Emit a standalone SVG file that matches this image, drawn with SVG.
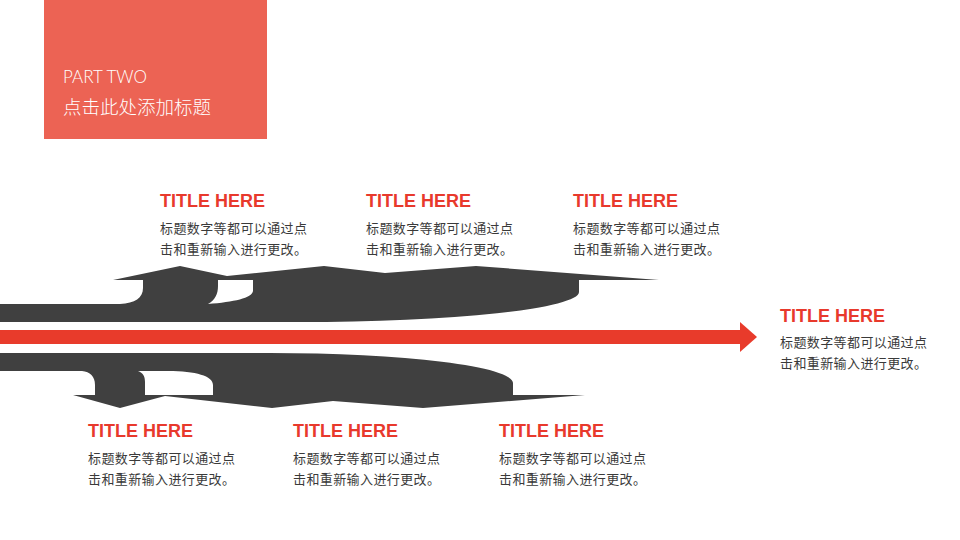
<svg xmlns="http://www.w3.org/2000/svg" width="960" height="540" viewBox="0 0 960 540">
<style>
.t{font-family:"Liberation Sans",Arial,sans-serif;font-weight:bold;font-size:18px;fill:#E8392C}
.b{font-family:"Noto Sans CJK SC","Liberation Sans",sans-serif;font-size:13px;fill:#3a3a3a;letter-spacing:0.4px}
.dark{fill:#404040}
.hole{fill:#ffffff}
</style>
<rect width="960" height="540" fill="#ffffff"/>
<g id="header">
<rect x="44" y="0" width="223" height="139" fill="#EC6354"/>
<text x="63" y="83" font-family="Lato,'Liberation Sans',sans-serif" font-weight="300" font-size="17" fill="#ffffff">PART TWO</text>
<text x="63" y="114" font-family="'Noto Sans CJK SC',sans-serif" font-weight="300" font-size="18.5" fill="#ffffff">点击此处添加标题</text>
</g>
<g id="connectors">
<path class="dark" d="M0,304 L120,304 C135,303 143,298 143,288 L143,280 L113,280 L180,266 L227,276 L324,266 L385,273 L476,266 L659,280 L579,280 L579,292 A280 30 0 0 1 299,322 L0,322 Z"/>
<path class="hole" d="M218,280 L253,280 L253,291 C252,298 234,302 208,304 C215,300 218,294 218,286 Z"/>
<path class="dark" d="M0,353 L270,353 A243 30 0 0 1 513,383 L513,395 L585,395 L423,408 L333,401 L272,408 L165,396 L120,408 L73,395 L95,395 L95,385 C95,376 90,372 82,371 L0,371 Z"/>
<path class="hole" d="M138,371 L168,371 C196,371 213,376 213,385 L213,395 L145,395 L145,382 C145,376 143,373 138,371 Z"/>
<rect x="0" y="330" width="741" height="14" fill="#E83B2B"/>
<polygon points="740,322 757,337 740,352" fill="#E83B2B"/>
</g>
<g id="node-top-1">
<text class="t" x="160" y="207">TITLE HERE</text>
<text class="b" x="160" y="233">标题数字等都可以通过点</text>
<text class="b" x="160" y="254">击和重新输入进行更改。</text>
</g>
<g id="node-top-2">
<text class="t" x="366" y="207">TITLE HERE</text>
<text class="b" x="366" y="233">标题数字等都可以通过点</text>
<text class="b" x="366" y="254">击和重新输入进行更改。</text>
</g>
<g id="node-top-3">
<text class="t" x="573" y="207">TITLE HERE</text>
<text class="b" x="573" y="233">标题数字等都可以通过点</text>
<text class="b" x="573" y="254">击和重新输入进行更改。</text>
</g>
<g id="node-right">
<text class="t" x="780" y="322">TITLE HERE</text>
<text class="b" x="780" y="347">标题数字等都可以通过点</text>
<text class="b" x="780" y="368">击和重新输入进行更改。</text>
</g>
<g id="node-bottom-1">
<text class="t" x="88" y="437">TITLE HERE</text>
<text class="b" x="88" y="463">标题数字等都可以通过点</text>
<text class="b" x="88" y="484">击和重新输入进行更改。</text>
</g>
<g id="node-bottom-2">
<text class="t" x="293" y="437">TITLE HERE</text>
<text class="b" x="293" y="463">标题数字等都可以通过点</text>
<text class="b" x="293" y="484">击和重新输入进行更改。</text>
</g>
<g id="node-bottom-3">
<text class="t" x="499" y="437">TITLE HERE</text>
<text class="b" x="499" y="463">标题数字等都可以通过点</text>
<text class="b" x="499" y="484">击和重新输入进行更改。</text>
</g>
</svg>
